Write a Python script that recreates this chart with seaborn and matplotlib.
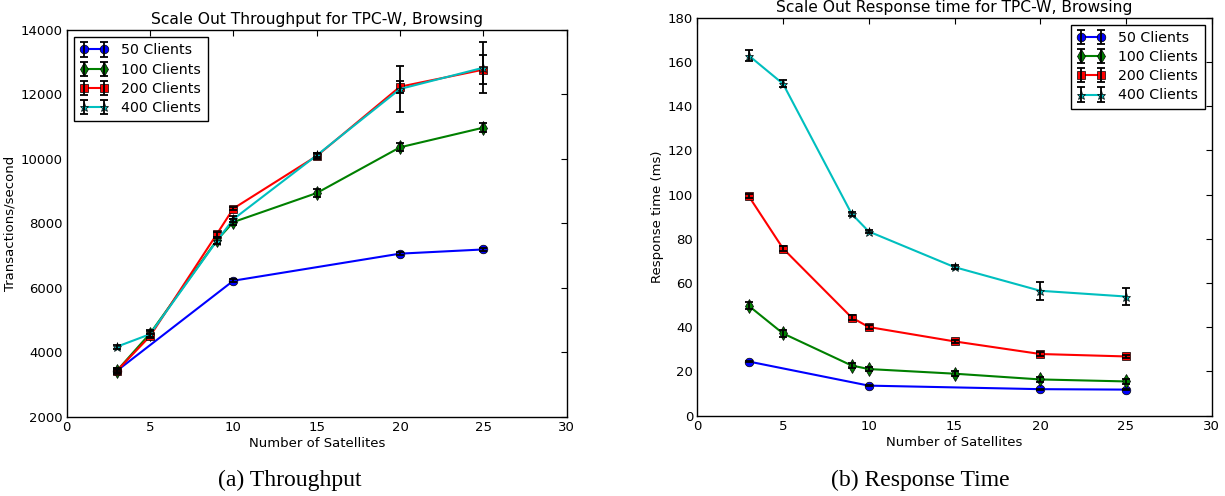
import numpy as np
import pandas as pd
import matplotlib
matplotlib.use("Agg")
import matplotlib.pyplot as plt
import seaborn as sns

# x values (number of satellites); 50 clients only has 4 points
sats = [3, 5, 9, 10, 15, 20, 25]
sats_50 = [3, 10, 20, 25]
client_labels = ["50 Clients", "100 Clients", "200 Clients", "400 Clients"]

# throughput (transactions/second)
tput_50 = [3420, 6220, 7060, 7190]
tput_100 = [3420, 4580, 7470, 8040, 8940, 10360, 10970]
tput_200 = [3420, 4500, 7660, 8460, 10090, 12240, 12770]
tput_400 = [4170, 4560, 7450, 8130, 10110, 12170, 12830]
tput_50_err = [30, 40, 40, 40]
tput_100_err = [60, 100, 100, 100, 120, 130, 150]
tput_200_err = [100, 60, 80, 60, 80, 190, 450]
tput_400_err = [60, 100, 100, 100, 60, 700, 800]

# response time (ms)
resp_50 = [24.5, 13.6, 12.0, 11.8]
resp_100 = [49.7, 37.2, 22.7, 21.1, 19.0, 16.4, 15.5]
resp_200 = [99.3, 75.6, 44.4, 40.1, 33.6, 27.9, 26.8]
resp_400 = [162.9, 150.1, 91.3, 83.3, 67.2, 56.5, 53.9]
resp_50_err = [0.4, 0.3, 0.3, 0.3]
resp_100_err = [1.5, 1.5, 1.2, 1.0, 1.0, 1.0, 1.0]
resp_200_err = [1.0, 1.0, 1.0, 0.8, 0.8, 0.8, 0.8]
resp_400_err = [2.6, 1.5, 1.0, 0.8, 0.8, 4.0, 4.0]

colors = ["b", "g", "r", "c"]
markers = ["o", "d", "s", "*"]
msizes = [6.2, 6.8, 6.2, 6.5]


def draw(ax, series, title, ylabel, ylim, yticks, legend_loc):
    handles = []
    for (xs, ys, es), lab, c, m, ms in zip(series, client_labels, colors, markers, msizes):
        df = pd.DataFrame({"x": xs, "y": ys})
        sns.lineplot(data=df, x="x", y="y", ax=ax, color=c, marker=m, markersize=ms,
                     markeredgecolor="k", markeredgewidth=0.5, linewidth=1.5,
                     errorbar=None, legend=False)
        line = ax.lines[-1]
        eb = ax.errorbar(xs, ys, yerr=es, fmt="none", ecolor="k", elinewidth=1.3,
                         capsize=3, capthick=1.3, zorder=4)
        handles.append((line, eb))
    ax.set_xlim(0, 30)
    ax.set_ylim(*ylim)
    ax.set_yticks(yticks)
    ax.set_xticks(range(0, 31, 5))
    ax.set_title(title, fontsize=11.2, pad=4)
    ax.set_xlabel("Number of Satellites", fontsize=9.5, labelpad=2)
    ax.set_ylabel(ylabel, fontsize=9.5, labelpad=3)
    ax.tick_params(direction="in", top=True, right=True, length=4, labelsize=9.5, pad=3,
                   colors="k")
    for s in ax.spines.values():
        s.set_visible(True)
        s.set_linewidth(1.0)
        s.set_color("k")
    leg = ax.legend(handles, client_labels, loc=legend_loc, numpoints=2, fontsize=10.2,
                    fancybox=False, framealpha=1, edgecolor="k", handlelength=2.0,
                    borderaxespad=0.5, labelspacing=0.36, handletextpad=0.9, borderpad=0.45)
    leg.get_frame().set_linewidth(1.0)


sns.set_style("white")
plt.rcParams["font.family"] = ["DejaVu Sans"]
plt.rcParams["text.color"] = "k"
plt.rcParams["axes.labelcolor"] = "k"
plt.rcParams["xtick.color"] = "k"
plt.rcParams["ytick.color"] = "k"

fig = plt.figure(figsize=(12.25, 4.96), dpi=100)
ax1 = fig.add_axes([66.7 / 1225, 1 - 416.7 / 496, 500 / 1225, 386.7 / 496])
ax2 = fig.add_axes([697.3 / 1225, 1 - 415.7 / 496, 514.4 / 1225, 398 / 496])

draw(ax1,
     [(sats_50, tput_50, tput_50_err), (sats, tput_100, tput_100_err),
      (sats, tput_200, tput_200_err), (sats, tput_400, tput_400_err)],
     "Scale Out Throughput for TPC-W, Browsing", "Transactions/second",
     (2000, 14000), range(2000, 14001, 2000), "upper left")
draw(ax2,
     [(sats_50, resp_50, resp_50_err), (sats, resp_100, resp_100_err),
      (sats, resp_200, resp_200_err), (sats, resp_400, resp_400_err)],
     "Scale Out Response time for TPC-W, Browsing", "Response time (ms)",
     (0, 180), range(0, 181, 20), "upper right")

fig.text(290 / 1225, 1 - 480 / 496, "(a) Throughput", ha="center", va="center",
         family="Liberation Serif", fontsize=17, color="k")
fig.text(920 / 1225, 1 - 480 / 496, "(b) Response Time", ha="center", va="center",
         family="Liberation Serif", fontsize=17, color="k")

fig.savefig("out.png", dpi=100)
